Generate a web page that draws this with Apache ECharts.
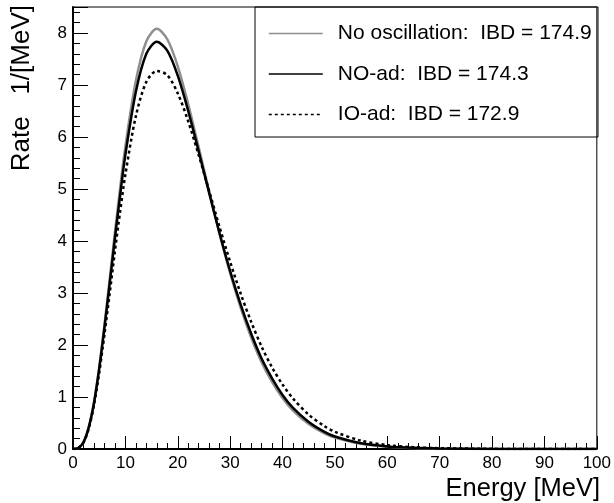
<!DOCTYPE html>
<html>
<head>
<meta charset="utf-8">
<script src="https://cdn.jsdelivr.net/npm/echarts@6/dist/echarts.min.js"></script>
<style>
html,body{margin:0;padding:0;background:#fff;}
#chart{width:614px;height:503px;}
</style>
</head>
<body>
<div id="chart"></div>
<script>
// Energy points (MeV)
var energy = [0,1,2,3,4,5,6,7,8,9,10,12,14,16,18,20,22,24,26,28,30,32,34,36,38,40,42,45,48,50,55,60,65,70,80,90,100];
// No oscillation (grey)
var noOsc = [0,0.02,0.13,0.42,0.90,1.57,2.38,3.26,4.16,5.02,5.82,7.08,7.84,8.08,7.88,7.36,6.63,5.80,4.95,4.13,3.38,2.72,2.15,1.67,1.29,0.98,0.74,0.48,0.30,0.22,0.10,0.045,0.02,0.009,0.002,0.0005,0];
// NO-ad (solid black)
var noAd = [0,0.02,0.13,0.41,0.88,1.54,2.33,3.18,4.05,4.88,5.66,6.87,7.60,7.83,7.66,7.18,6.50,5.72,4.92,4.14,3.42,2.78,2.22,1.74,1.36,1.04,0.79,0.52,0.33,0.24,0.11,0.05,0.022,0.010,0.002,0.0005,0];
// IO-ad (dotted black)
var ioAd = [0,0.02,0.12,0.39,0.84,1.46,2.20,2.99,3.80,4.57,5.28,6.40,7.06,7.27,7.19,6.84,6.30,5.65,4.96,4.26,3.60,2.99,2.45,1.97,1.57,1.24,0.97,0.66,0.44,0.33,0.16,0.075,0.035,0.016,0.003,0.0006,0];
var seriesNames = ['No oscillation:  IBD = 174.9','NO-ad:  IBD = 174.3','IO-ad:  IBD = 172.9'];
var xTitle = 'Energy [MeV]';
var yTitle = 'Rate   1/[MeV]';

function pairs(ys){ return energy.map(function(e,i){ return [e, ys[i]]; }); }

var FONT = 'Liberation Sans, Arial, Helvetica, sans-serif';
var chart = echarts.init(document.getElementById('chart'), null, {renderer:'canvas'});
var option = {
  animation: false,
  backgroundColor: '#fff',
  grid: {left:73, right:14, top:7, bottom:54, show:true, borderColor:'#000', borderWidth:1, backgroundColor:'transparent'},
  xAxis: {
    type:'value', min:0, max:100, interval:10,
    axisLine:{show:true, onZero:false, lineStyle:{color:'#000', width:2}},
    axisTick:{show:true, inside:true, length:13, lineStyle:{color:'#000', width:1}},
    minorTick:{show:true, splitNumber:5, length:6, lineStyle:{color:'#000', width:1}},
    splitLine:{show:false},
    axisLabel:{color:'#000', fontFamily:FONT, fontSize:17, margin:6}
  },
  yAxis: {
    type:'value', min:0, max:8.5, interval:1,
    axisLine:{show:true, onZero:false, lineStyle:{color:'#000', width:2}},
    axisTick:{show:true, inside:true, length:15, lineStyle:{color:'#000', width:1}},
    minorTick:{show:true, splitNumber:5, length:7, lineStyle:{color:'#000', width:1}},
    splitLine:{show:false},
    axisLabel:{color:'#000', fontFamily:FONT, fontSize:17, margin:6,
      formatter:function(v){ return (Math.abs(v-Math.round(v))<1e-6) ? String(Math.round(v)) : ''; }}
  },
  legend: {
    orient:'vertical', left:268, top:23, padding:0, itemGap:19.5,
    itemWidth:54, itemHeight:20,
    itemStyle:{opacity:0},
    lineStyle:{width:1.6},
    textStyle:{color:'#000', fontFamily:FONT, fontSize:21, padding:[0,0,0,10]},
    data: seriesNames
  },
  graphic: [
    {type:'rect', shape:{x:255, y:7, width:343, height:130}, style:{fill:'#fff', stroke:'#000', lineWidth:1}, z:-1, zlevel:0},
    {type:'text', x:22, y:5, rotation:Math.PI/2, style:{text:yTitle, font:'26px '+FONT, fill:'#000', textAlign:'right', textVerticalAlign:'middle'}},
    {type:'text', x:600, y:489, style:{text:xTitle, font:'25.5px '+FONT, fill:'#000', textAlign:'right', textVerticalAlign:'middle'}}
  ],
  series: [
    {name:seriesNames[0], type:'line', data:pairs(noOsc), showSymbol:false, symbol:'none', smooth:0.3,
     lineStyle:{color:'#8f8f8f', width:2.5}, itemStyle:{color:'#8f8f8f'}, z:2},
    {name:seriesNames[1], type:'line', data:pairs(noAd), showSymbol:false, symbol:'none', smooth:0.3,
     lineStyle:{color:'#000', width:2.5}, itemStyle:{color:'#000'}, z:3},
    {name:seriesNames[2], type:'line', data:pairs(ioAd), showSymbol:false, symbol:'none', smooth:0.3,
     lineStyle:{color:'#000', width:2.5, type:[3,3]}, itemStyle:{color:'#000'}, z:4}
  ]
};
chart.setOption(option);
</script>
</body>
</html>
